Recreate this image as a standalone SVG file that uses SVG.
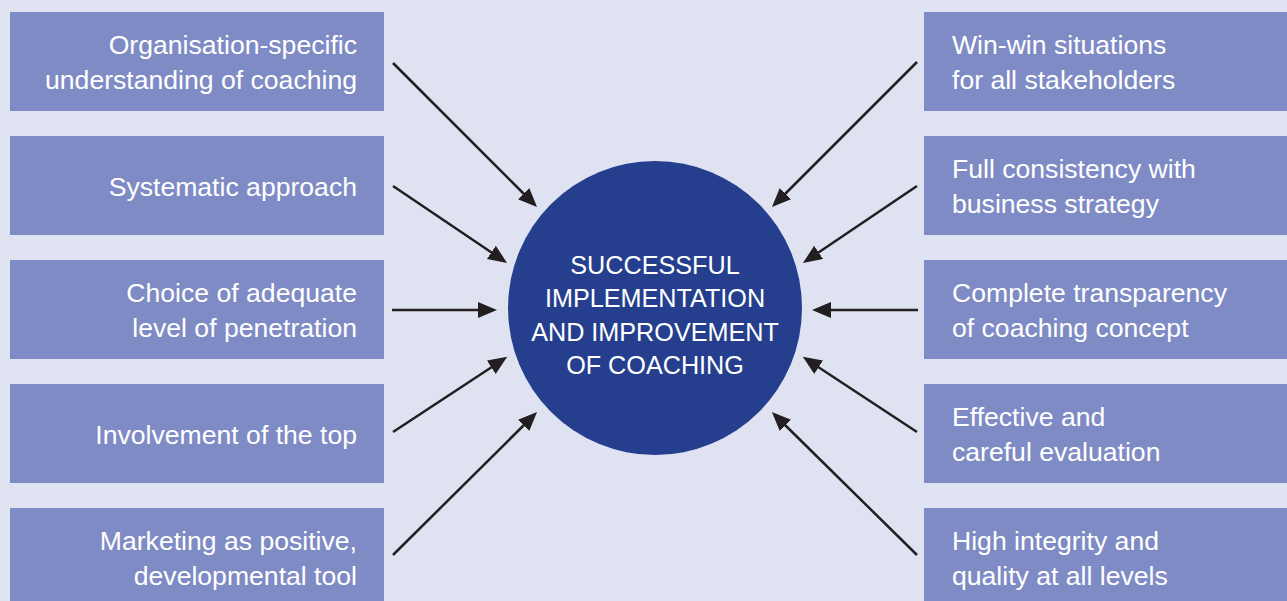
<svg xmlns="http://www.w3.org/2000/svg" width="1287" height="601" viewBox="0 0 1287 601">
<defs>
<style>
.box{fill:#7F8BC5}
.t{font-family:"Liberation Sans",Arial,sans-serif;font-size:26.6px;fill:#FFFFFF}
.l{text-anchor:end}
.c{font-family:"Liberation Sans",Arial,sans-serif;font-size:25.2px;fill:#FFFFFF;text-anchor:middle}
.a{stroke:#231F20;stroke-width:2.5;fill:none;marker-end:url(#ah)}
</style>
<marker id="ah" markerUnits="userSpaceOnUse" markerWidth="22" markerHeight="18" refX="2" refY="8" orient="auto" viewBox="0 0 22 18">
<path d="M0,0 L19,8 L0,16 z" fill="#231F20"/>
</marker>
</defs>
<rect x="0" y="0" width="1287" height="601" fill="#DFE2F1"/>
<g id="left1"><rect class="box" x="10" y="12" width="374" height="99"/><text class="t l" x="357" y="53.5">Organisation-specific</text><text class="t l" x="357" y="88.5">understanding of coaching</text></g>
<g id="left2"><rect class="box" x="10" y="136" width="374" height="99"/><text class="t l" x="357" y="195.5">Systematic approach</text></g>
<g id="left3"><rect class="box" x="10" y="260" width="374" height="99"/><text class="t l" x="357" y="301.5">Choice of adequate</text><text class="t l" x="357" y="336.5">level of penetration</text></g>
<g id="left4"><rect class="box" x="10" y="384" width="374" height="99"/><text class="t l" x="357" y="443.5">Involvement of the top</text></g>
<g id="left5"><rect class="box" x="10" y="508" width="374" height="99"/><text class="t l" x="357" y="549.5">Marketing as positive,</text><text class="t l" x="357" y="584.5">developmental tool</text></g>
<g id="right1"><rect class="box" x="924" y="12" width="363" height="99"/><text class="t" x="952" y="53.5">Win-win situations</text><text class="t" x="952" y="88.5">for all stakeholders</text></g>
<g id="right2"><rect class="box" x="924" y="136" width="363" height="99"/><text class="t" x="952" y="177.5">Full consistency with</text><text class="t" x="952" y="212.5">business strategy</text></g>
<g id="right3"><rect class="box" x="924" y="260" width="363" height="99"/><text class="t" x="952" y="301.5">Complete transparency</text><text class="t" x="952" y="336.5">of coaching concept</text></g>
<g id="right4"><rect class="box" x="924" y="384" width="363" height="99"/><text class="t" x="952" y="425.5">Effective and</text><text class="t" x="952" y="460.5">careful evaluation</text></g>
<g id="right5"><rect class="box" x="924" y="508" width="363" height="99"/><text class="t" x="952" y="549.5">High integrity and</text><text class="t" x="952" y="584.5">quality at all levels</text></g>
<g id="center"><circle cx="655" cy="308" r="147" fill="#253F8E"/>
<text class="c" x="655" y="273.5">SUCCESSFUL</text>
<text class="c" x="655" y="307">IMPLEMENTATION</text>
<text class="c" x="655" y="340.5">AND IMPROVEMENT</text>
<text class="c" x="655" y="374">OF COACHING</text></g>
<g id="connectors">
<line class="a" x1="393" y1="63" x2="525" y2="195"/>
<line class="a" x1="393" y1="186" x2="493" y2="253.5"/>
<line class="a" x1="392" y1="310" x2="480" y2="310"/>
<line class="a" x1="393" y1="432" x2="493" y2="366.2"/>
<line class="a" x1="393" y1="555" x2="525" y2="424"/>
<line class="a" x1="917" y1="62" x2="784" y2="195"/>
<line class="a" x1="917" y1="186" x2="817" y2="253.5"/>
<line class="a" x1="918" y1="310" x2="829" y2="310"/>
<line class="a" x1="917" y1="432" x2="817" y2="366.2"/>
<line class="a" x1="917" y1="555" x2="784" y2="424"/>
</g>
</svg>
